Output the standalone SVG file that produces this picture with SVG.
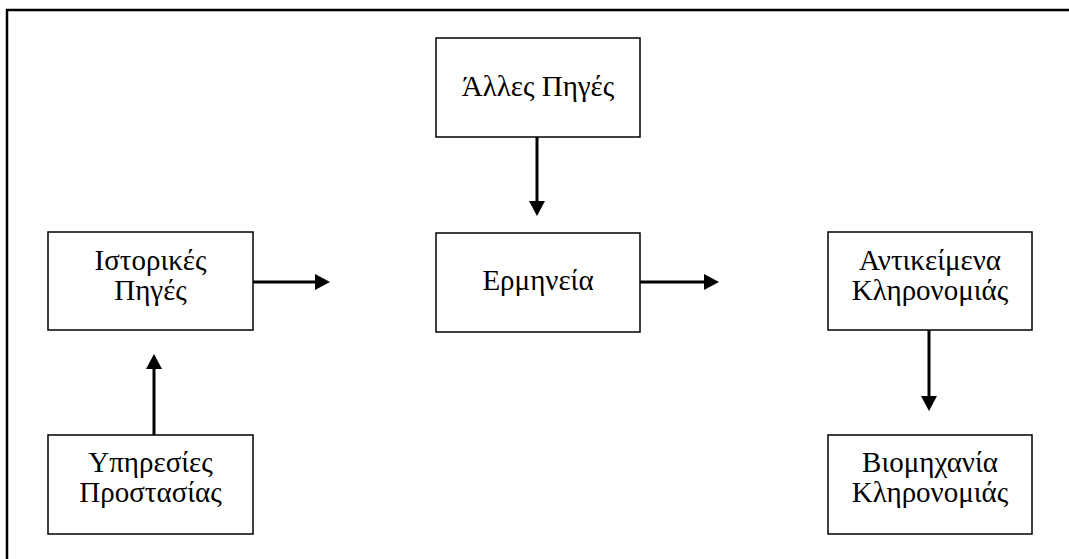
<svg xmlns="http://www.w3.org/2000/svg" width="1069" height="559" viewBox="0 0 1069 559">
  <style>
    .box { fill: #ffffff; stroke: #000000; stroke-width: 1.5; }
    .label { font-family: "Liberation Serif", "DejaVu Serif", "Times New Roman", serif; font-size: 29px; fill: #000000; text-anchor: middle; }
    .frame { fill: none; stroke: #000000; stroke-width: 2.5; }
    .conn { fill: none; stroke: #000000; stroke-width: 3; }
  </style>
  <defs>
    <marker id="arrow" markerUnits="userSpaceOnUse" markerWidth="15" markerHeight="16" refX="4" refY="8" orient="auto">
      <path d="M0,0 L15,8 L0,16 Z" fill="#000000"/>
    </marker>
  </defs>

  <rect width="1069" height="559" fill="#ffffff"/>

  <!-- outer page frame, running past the right and bottom edges -->
  <rect class="frame" x="7" y="10" width="1090" height="580"/>

  <g id="alles-piges">
    <rect class="box" x="436" y="38" width="204" height="99"/>
    <text class="label" x="538" y="96">Άλλες Πηγές</text>
  </g>

  <g id="ermineia">
    <rect class="box" x="436" y="233" width="204" height="99"/>
    <text class="label" x="538" y="290">Ερμηνεία</text>
  </g>

  <g id="istorikes-piges">
    <rect class="box" x="48" y="232" width="205" height="98"/>
    <text class="label" x="150.5" y="270">Ιστορικές</text>
    <text class="label" x="150.5" y="300">Πηγές</text>
  </g>

  <g id="ypiresies-prostasias">
    <rect class="box" x="48" y="435" width="205" height="99"/>
    <text class="label" x="150.5" y="472">Υπηρεσίες</text>
    <text class="label" x="150.5" y="502">Προστασίας</text>
  </g>

  <g id="antikeimena-klironomias">
    <rect class="box" x="828" y="232" width="204" height="98"/>
    <text class="label" x="930" y="270">Αντικείμενα</text>
    <text class="label" x="930" y="300">Κληρονομιάς</text>
  </g>

  <g id="viomichania-klironomias">
    <rect class="box" x="828" y="435" width="204" height="99"/>
    <text class="label" x="930" y="472">Βιομηχανία</text>
    <text class="label" x="930" y="502">Κληρονομιάς</text>
  </g>

  <g id="connectors">
    <line class="conn" x1="537" y1="137" x2="537" y2="205" marker-end="url(#arrow)"/>
    <line class="conn" x1="253" y1="282" x2="319" y2="282" marker-end="url(#arrow)"/>
    <line class="conn" x1="640" y1="282" x2="708" y2="282" marker-end="url(#arrow)"/>
    <line class="conn" x1="154" y1="435" x2="154" y2="365" marker-end="url(#arrow)"/>
    <line class="conn" x1="929" y1="330" x2="929" y2="400" marker-end="url(#arrow)"/>
  </g>
</svg>
